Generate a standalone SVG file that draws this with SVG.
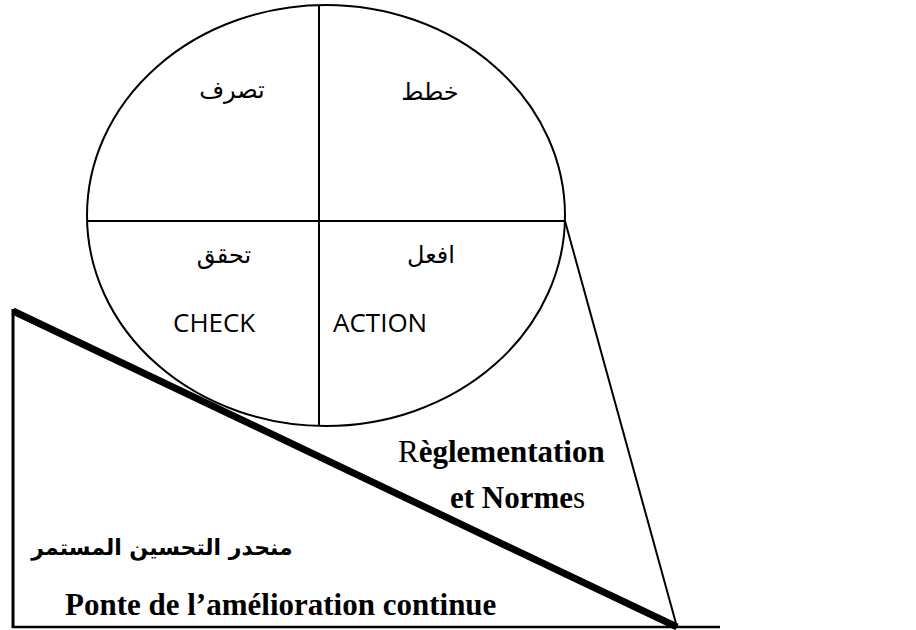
<svg xmlns="http://www.w3.org/2000/svg" width="916" height="630" viewBox="0 0 916 630">
  <style>
    .thin { stroke: #000; stroke-width: 2; fill: none; }
    .ar { font-family: "DejaVu Sans", sans-serif; font-size: 24px; fill: #000; text-anchor: middle; }
    .en { font-family: "Open Sans", "Liberation Sans", sans-serif; font-size: 26px; fill: #000; }
    .fr { font-family: "Liberation Serif", serif; font-size: 31px; font-weight: bold; fill: #000; }
    .arb { font-family: "DejaVu Sans", sans-serif; font-size: 22px; font-weight: bold; fill: #000; }
  </style>
  <rect width="916" height="630" fill="#fff"/>
  <g id="connectors">
    <line class="thin" x1="565" y1="221" x2="677" y2="627"/>
    <line x1="13" y1="311" x2="677" y2="627" stroke="#000" stroke-width="7"/>
    <line x1="13" y1="309" x2="13" y2="628" stroke="#000" stroke-width="3"/>
    <line x1="12" y1="627" x2="720" y2="627" stroke="#000" stroke-width="2.5"/>
  </g>
  <g id="cycle">
    <ellipse class="thin" cx="326" cy="215.5" rx="239" ry="210.5"/>
    <line class="thin" x1="319" y1="5" x2="319" y2="426"/>
    <line class="thin" x1="87" y1="221" x2="565" y2="221"/>
  </g>
  <g id="plan"><text class="ar" x="430" y="100" direction="rtl">خطط</text></g>
  <g id="act"><text class="ar" x="232" y="98" direction="rtl">تصرف</text></g>
  <g id="do">
    <text class="ar" x="431" y="263" direction="rtl">افعل</text>
    <text class="en" x="333" y="332">ACTION</text>
  </g>
  <g id="check">
    <text class="ar" x="224" y="263" direction="rtl">تحقق</text>
    <text class="en" x="173" y="332">CHECK</text>
  </g>
  <g id="regulation">
    <text class="fr" x="398" y="462"><tspan font-weight="normal">R</tspan>èglementation</text>
    <text class="fr" x="450" y="508">et  Norme<tspan font-weight="normal">s</tspan></text>
  </g>
  <g id="slope">
    <text class="arb" x="162" y="555" text-anchor="middle" direction="rtl">منحدر التحسين المستمر</text>
    <text class="fr" x="65" y="615">Ponte de l’amélioration continue</text>
  </g>
</svg>
